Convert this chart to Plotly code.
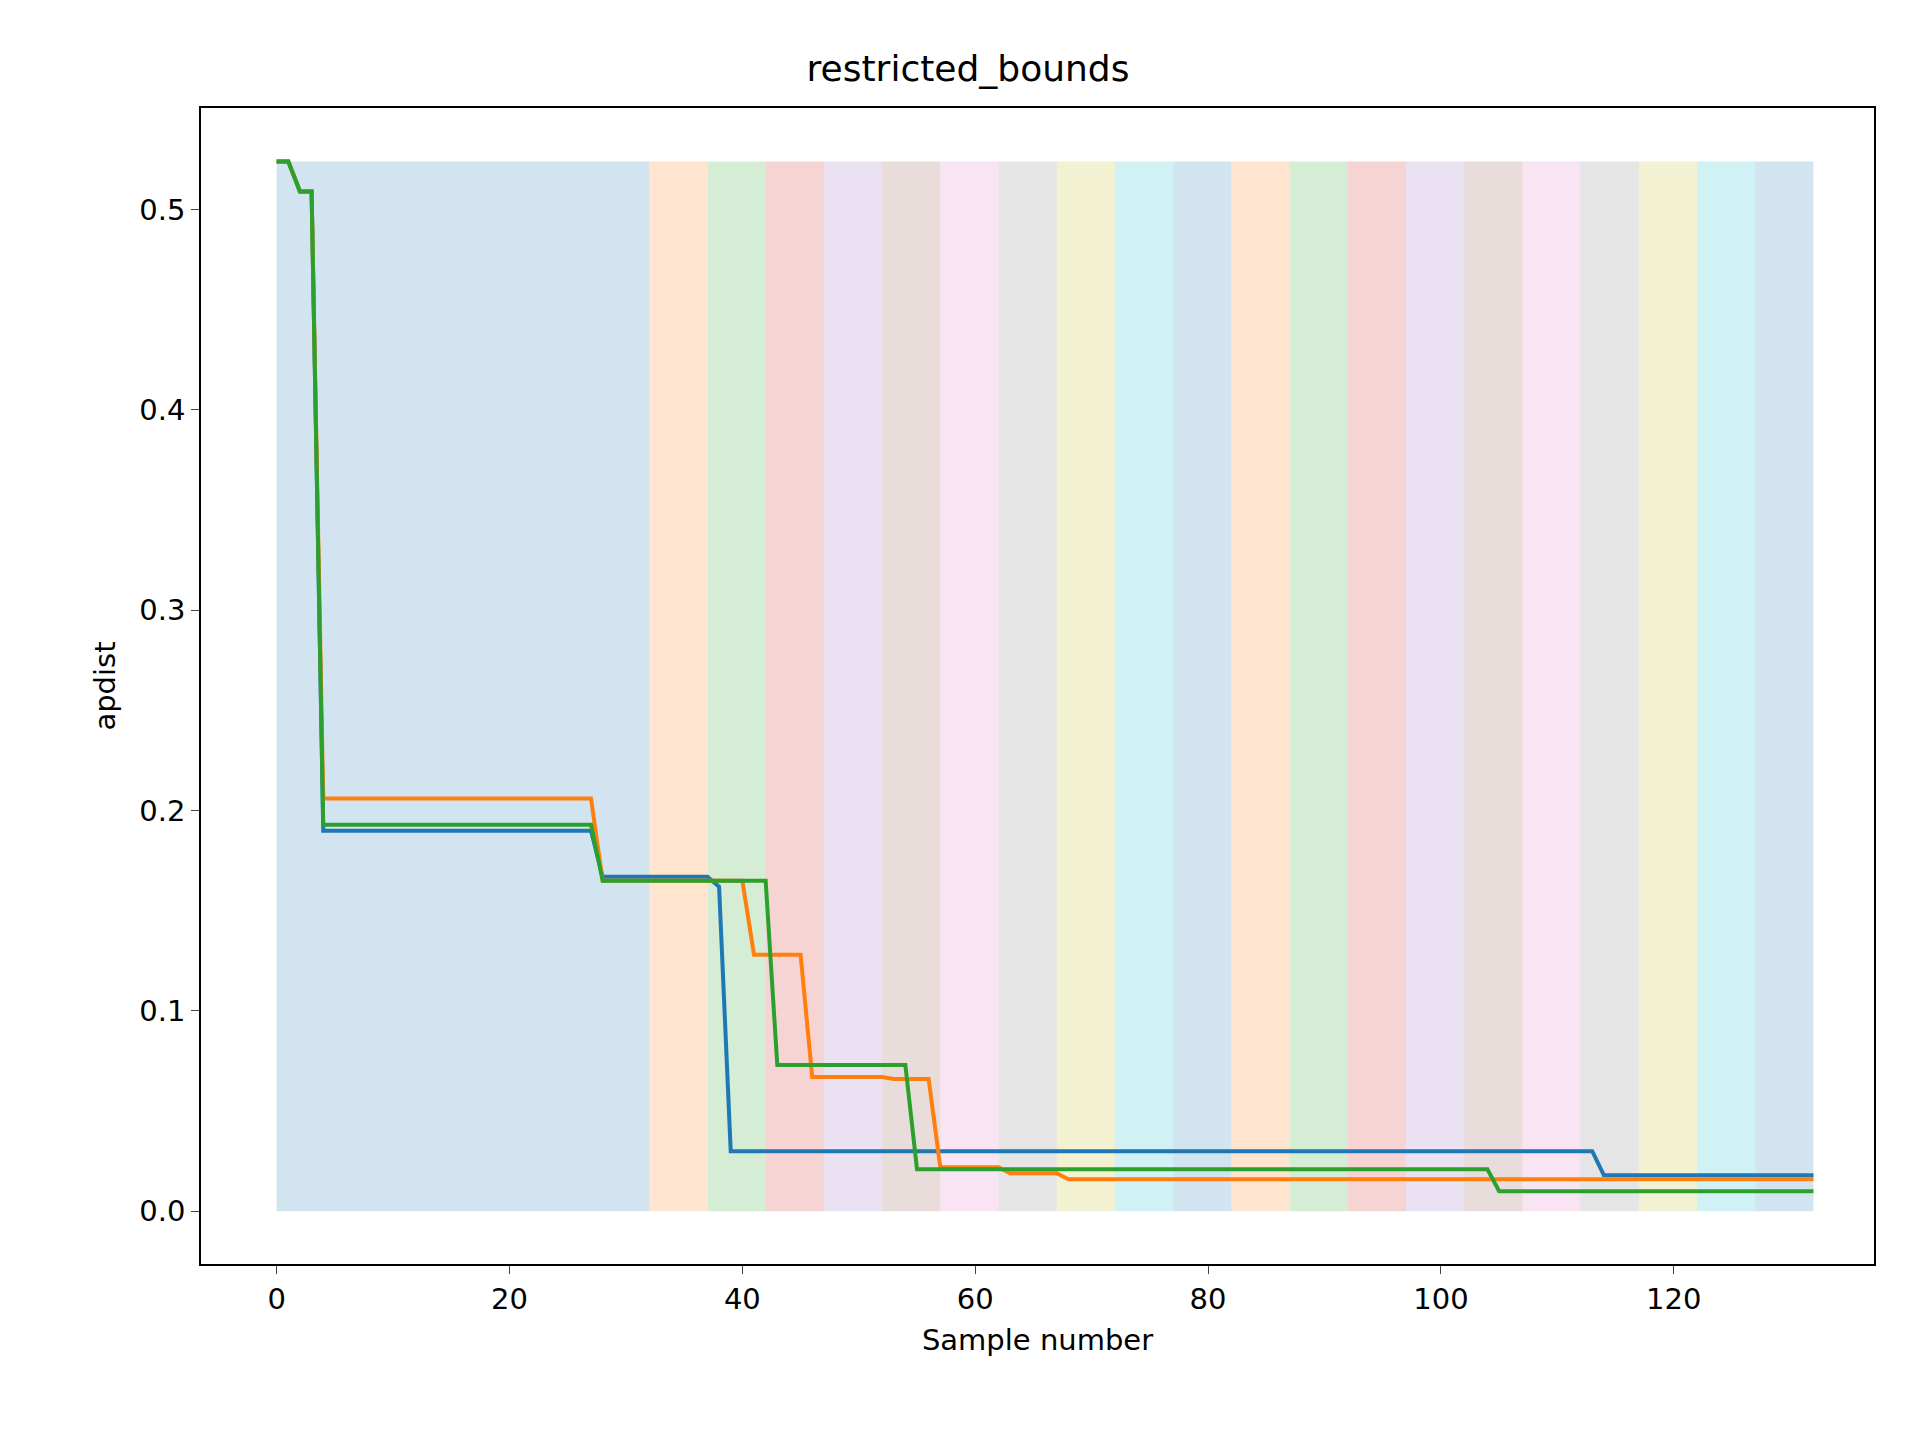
import plotly.graph_objects as go

blue_x = [0,1,2,3,4,27,28,37,38,39,113,114,132]
blue_y = [0.524,0.524,0.509,0.509,0.190,0.190,0.167,0.167,0.162,0.030,0.030,0.018,0.018]
orange_x = [0,1,2,3,4,27,28,40,41,45,46,52,53,56,57,62,63,67,68,132]
orange_y = [0.524,0.524,0.509,0.509,0.206,0.206,0.165,0.165,0.128,0.128,0.067,0.067,0.066,0.066,0.022,0.022,0.019,0.019,0.016,0.016]
green_x = [0,1,2,3,4,27,28,42,43,54,55,104,105,132]
green_y = [0.524,0.524,0.509,0.509,0.193,0.193,0.165,0.165,0.073,0.073,0.021,0.021,0.010,0.010]
band_edges = [0,32,37,42,47,52,57,62,67,72,77,82,87,92,97,102,107,112,117,122,127,132]
band_top = 0.524
tab10 = ["#1f77b4","#ff7f0e","#2ca02c","#d62728","#9467bd","#8c564b","#e377c2","#7f7f7f","#bcbd22","#17becf"]

fig = go.Figure()
shapes = []
for i in range(len(band_edges)-1):
    shapes.append(dict(type="rect", xref="x", yref="y", x0=band_edges[i], x1=band_edges[i+1],
                       y0=0, y1=band_top, fillcolor=tab10[i % 10], opacity=0.2, line_width=0, layer="below"))
for xs, ys, c in [(blue_x, blue_y, tab10[0]), (orange_x, orange_y, tab10[1]), (green_x, green_y, tab10[2])]:
    fig.add_trace(go.Scatter(x=xs, y=ys, mode="lines", line=dict(color=c, width=4), showlegend=False))

fig.update_layout(
    width=1920, height=1440, plot_bgcolor="white", paper_bgcolor="white",
    margin=dict(l=193, r=54, t=100, b=184), shapes=shapes,
    font=dict(family="DejaVu Sans", color="black", size=29),
    title=dict(text="restricted_bounds", x=0.5, xanchor="center", y=0.967, font=dict(size=36)),
    xaxis=dict(range=[-6.5, 137.2], tickvals=[0,20,40,60,80,100,120], showgrid=False, zeroline=False,
               showline=True, linecolor="black", linewidth=1.5, mirror=True, ticks="outside", ticklen=8,
               title=dict(text="Sample number", font=dict(size=29))),
    yaxis=dict(range=[-0.0263, 0.5507], tickvals=[0,0.1,0.2,0.3,0.4,0.5], tickformat=".1f", showgrid=False,
               zeroline=False, showline=True, linecolor="black", linewidth=1.5, mirror=True, ticks="outside",
               ticklen=8, title=dict(text="apdist", font=dict(size=29))),
)
fig.write_html("out.html")
